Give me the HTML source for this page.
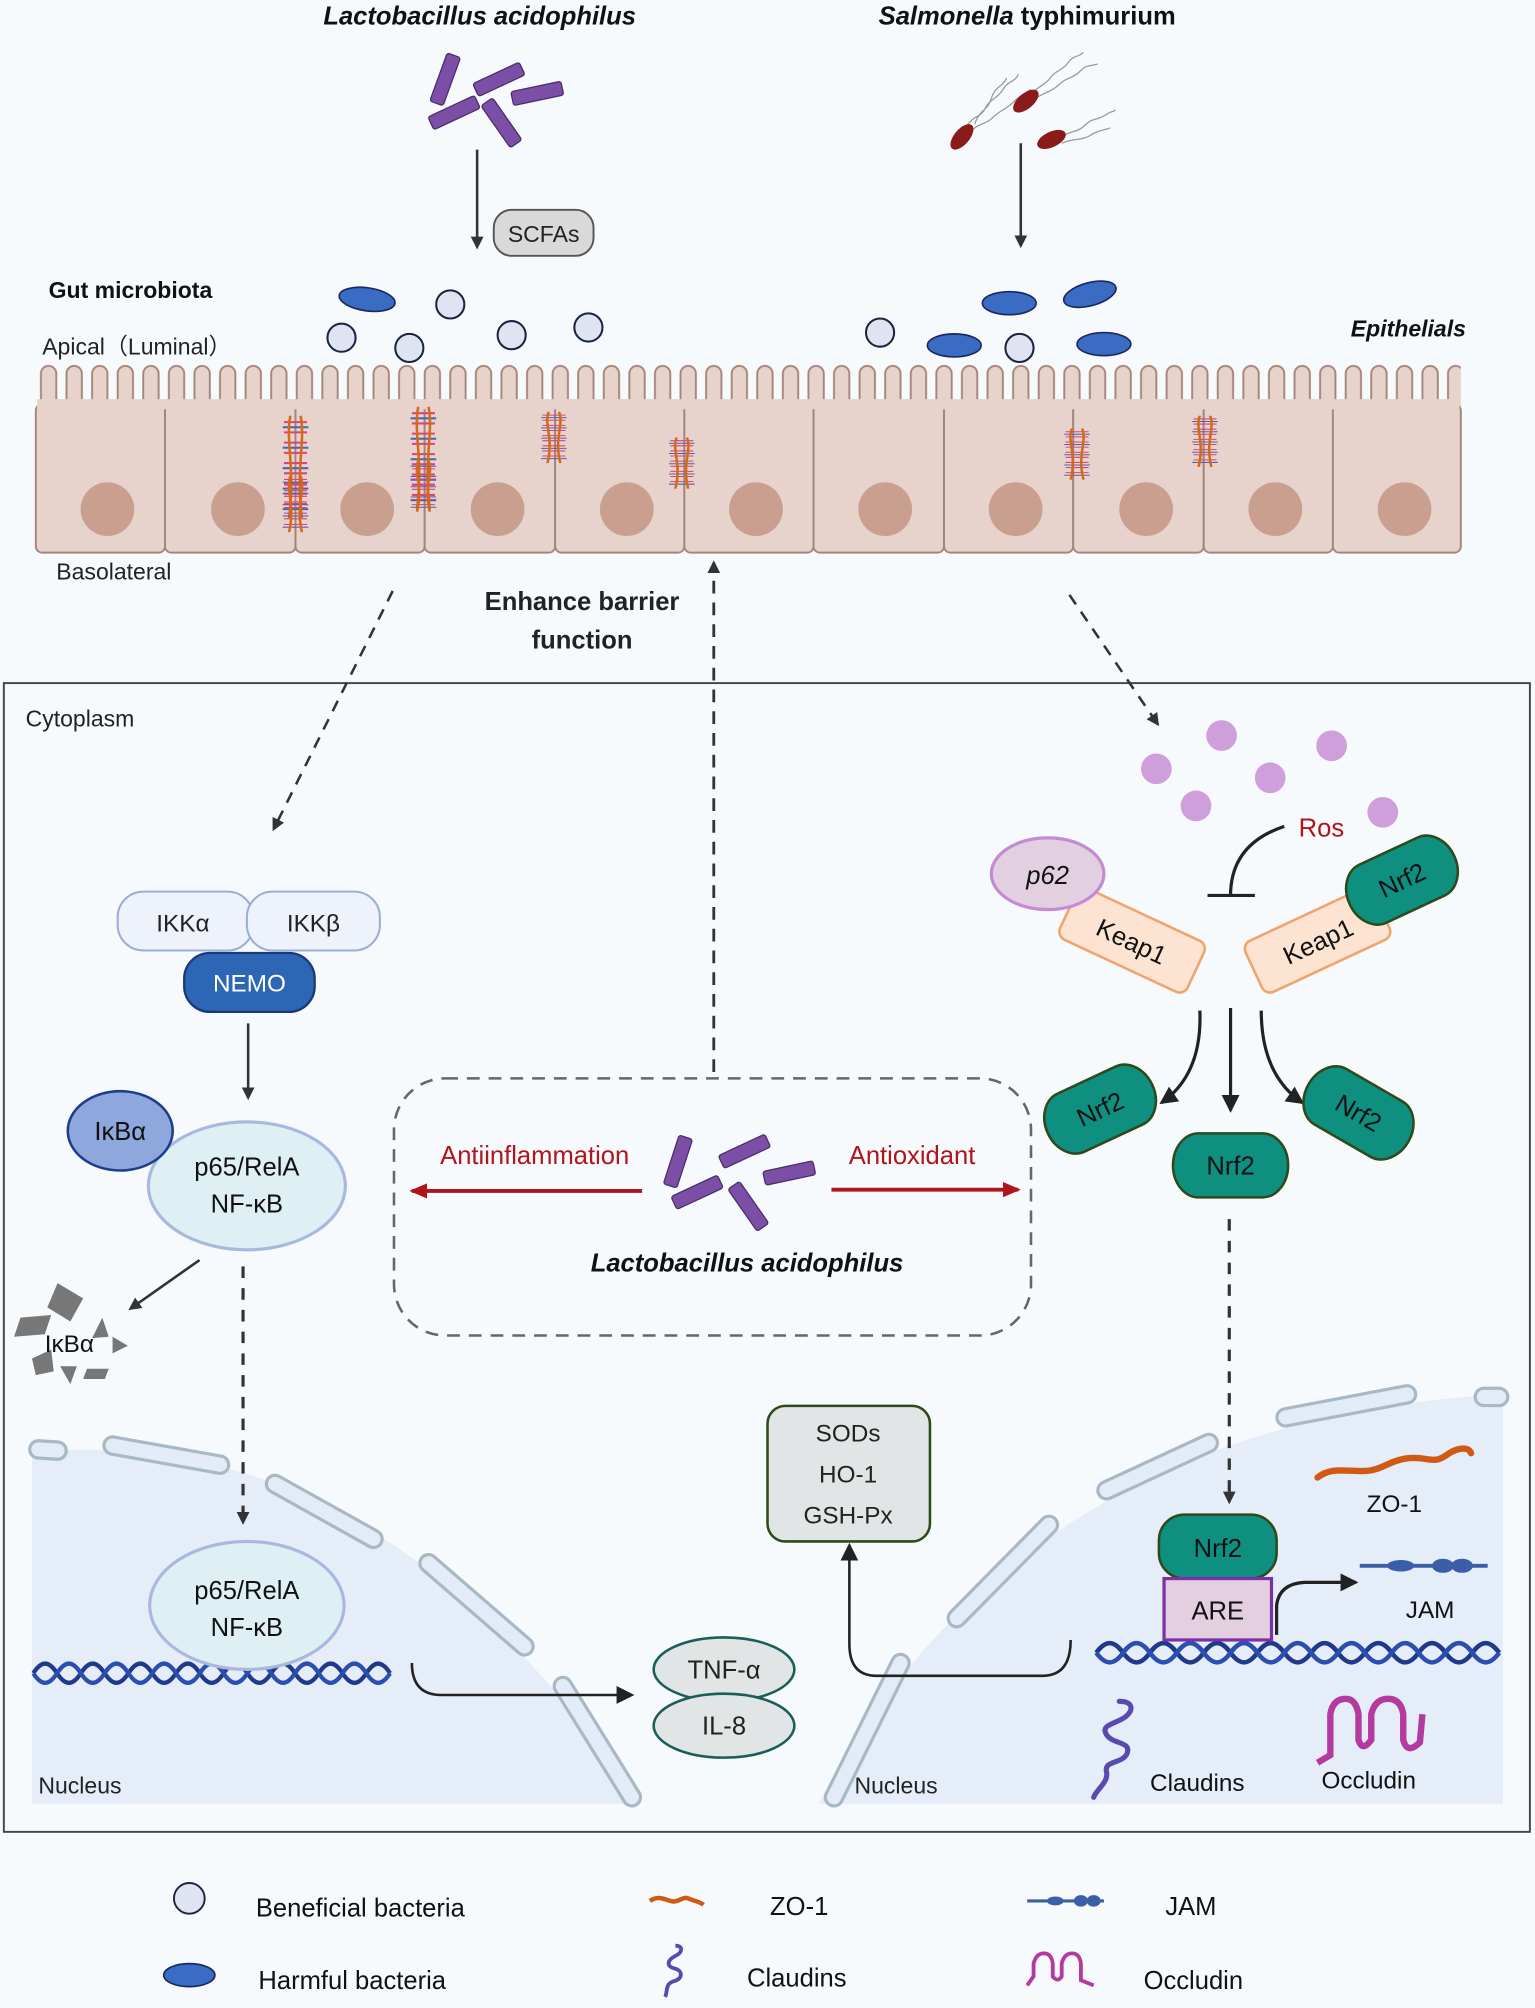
<!DOCTYPE html>
<html><head><meta charset="utf-8"><style>
html,body{margin:0;padding:0;background:#f7fafd;}
svg{display:block;}
text{font-family:"Liberation Sans",sans-serif;}
</style></head><body>
<svg width="1535" height="2008" viewBox="0 0 1200 1569.7" preserveAspectRatio="none" xmlns="http://www.w3.org/2000/svg">
<defs>
<marker id="ah" markerWidth="10" markerHeight="10" refX="8" refY="5" orient="auto" markerUnits="userSpaceOnUse"><path d="M0,0 L10,5 L0,10 z" fill="#333"/></marker>
<marker id="ah2" markerWidth="14" markerHeight="14" refX="12" refY="7" orient="auto" markerUnits="userSpaceOnUse"><path d="M0,0 L14,7 L0,14 z" fill="#222"/></marker>
<marker id="ahr" markerWidth="14" markerHeight="14" refX="12" refY="7" orient="auto" markerUnits="userSpaceOnUse"><path d="M0,1 L14,7 L0,13 z" fill="#b0141c"/></marker>
<pattern id="villi" x="28" y="285" width="20" height="80" patternUnits="userSpaceOnUse">
<rect x="4" y="1" width="12" height="70" rx="6" fill="#e7d3cc" stroke="#a38679" stroke-width="1.5"/>
</pattern>
<g id="rod"><rect x="-20" y="-5.5" width="40" height="11" rx="2" fill="#7b4fa6" stroke="#4b2d6e" stroke-width="1"/></g>
<g id="tj">
<g stroke-width="1.6" fill="none">
<path d="M-9,5 H9 M-9,13 H9 M-9,21 H9 M-9,29 H9 M-9,37 H9 M-9,45 H9 M-9,53 H9 M-9,61 H9 M-9,69 H9" stroke="#d6457c"/>
<path d="M-10,9 H10 M-10,25 H10 M-10,41 H10 M-10,57 H10 M-10,73 H10" stroke="#4a64b5"/>
<path d="M-4,0 C-8,20 0,40 -5,80 M4,0 C8,20 0,40 5,80" stroke="#d46a17" stroke-width="2"/>
</g></g>
<g id="dna">
<path d="M0,0 c7,-10 13,-10 20,0 s13,10 20,0 s13,-10 20,0 s13,10 20,0 s13,-10 20,0 s13,10 20,0 s13,-10 20,0 s13,10 20,0 s13,-10 20,0 s13,10 20,0 s13,-10 20,0 s13,10 20,0 s13,-10 20,0 s13,10 20,0 s13,-10 20,0" fill="none" stroke="#1f3a8a" stroke-width="3.5"/>
<path d="M0,0 c7,10 13,10 20,0 s13,-10 20,0 s13,10 20,0 s13,-10 20,0 s13,10 20,0 s13,-10 20,0 s13,10 20,0 s13,-10 20,0 s13,10 20,0 s13,-10 20,0 s13,10 20,0 s13,-10 20,0 s13,10 20,0 s13,-10 20,0 s13,10 20,0" fill="none" stroke="#2a4fb0" stroke-width="3.5"/>
</g>
<g id="nrf2"><rect x="-45" y="-25" width="90" height="50" rx="20" ry="25" fill="#0e8f80" stroke="#2d4a1a" stroke-width="2"/></g>
</defs>
<rect width="1200" height="1570" fill="#f7fafd"/>

<text x="375" y="19" font-size="20" font-weight="bold" font-style="italic" text-anchor="middle" fill="#111">Lactobacillus acidophilus</text>
<text x="803" y="19" font-size="20" font-weight="bold" text-anchor="middle" fill="#111"><tspan font-style="italic">Salmonella</tspan> typhimurium</text>

<use href="#rod" transform="translate(348,62) rotate(-70)"/>
<use href="#rod" transform="translate(390,62) rotate(-25)"/>
<use href="#rod" transform="translate(355,88) rotate(-25)"/>
<use href="#rod" transform="translate(420,73) rotate(-12)"/>
<use href="#rod" transform="translate(392,96) rotate(55)"/>
<line x1="373" y1="117" x2="373" y2="193" stroke="#333" stroke-width="2" marker-end="url(#ah)"/>
<rect x="386" y="164" width="78" height="36" rx="14" fill="#d9d9d9" stroke="#555" stroke-width="1.5"/>
<text x="425" y="189" font-size="18" text-anchor="middle" fill="#222">SCFAs</text>

<g stroke="#999" stroke-width="1" fill="none">
<path d="M755,100 c5,-10 12,-8 15,-15 s10,-8 14,-15 s10,-6 12,-12 M758,104 c6,-8 12,-6 18,-12 s10,-6 16,-12 s8,-6 14,-10 M762,97 c4,-12 10,-10 13,-20 s8,-8 12,-16"/>
<path d="M805,75 c6,-8 12,-8 16,-14 s10,-6 14,-12 s8,-4 12,-8 M808,78 c8,-6 14,-6 20,-12 s10,-4 16,-10 s8,-4 14,-6"/>
<path d="M828,108 c8,-6 14,-4 20,-10 s10,-4 16,-8 s6,-2 8,-4 M830,112 c8,-4 16,-2 22,-6 s10,-4 16,-6"/>
</g>
<ellipse cx="752" cy="107" rx="12" ry="6" transform="rotate(-50 752 107)" fill="#8b1a1a"/>
<ellipse cx="802" cy="79" rx="12" ry="6" transform="rotate(-40 802 79)" fill="#8b1a1a"/>
<ellipse cx="822" cy="109" rx="12" ry="6" transform="rotate(-25 822 109)" fill="#8b1a1a"/>
<line x1="798" y1="112" x2="798" y2="192" stroke="#333" stroke-width="2" marker-end="url(#ah)"/>

<text x="38" y="233" font-size="18" font-weight="bold" fill="#111">Gut microbiota</text>
<text x="33" y="277" font-size="18" fill="#222">Apical（Luminal）</text>
<text x="1146" y="263" font-size="18" font-weight="bold" font-style="italic" text-anchor="end" fill="#111">Epithelials</text>

<g fill="#dfe4f2" stroke="#1a2340" stroke-width="1.6">
<circle cx="352" cy="238" r="11"/><circle cx="267" cy="264" r="11"/><circle cx="320" cy="272" r="11"/>
<circle cx="400" cy="262" r="11"/><circle cx="460" cy="256" r="11"/><circle cx="688" cy="260" r="11"/><circle cx="797" cy="272" r="11"/>
</g>
<g fill="#3b6cc4" stroke="#1a2a60" stroke-width="1.3">
<ellipse cx="287" cy="234" rx="22" ry="9" transform="rotate(8 287 234)"/>
<ellipse cx="789" cy="237" rx="21" ry="9"/>
<ellipse cx="852" cy="230" rx="21" ry="9" transform="rotate(-15 852 230)"/>
<ellipse cx="746" cy="270" rx="21" ry="9"/>
<ellipse cx="863" cy="269" rx="21" ry="9"/>
</g>

<rect x="28" y="285" width="1114" height="38" fill="url(#villi)"/>
<g fill="#e7d3cc" stroke="#a38679" stroke-width="1.5">
<rect x="28" y="316" width="101" height="116" rx="5"/>
<rect x="129" y="316" width="102" height="116" rx="5"/>
<rect x="231" y="316" width="101" height="116" rx="5"/>
<rect x="332" y="316" width="102" height="116" rx="5"/>
<rect x="434" y="316" width="101" height="116" rx="5"/>
<rect x="535" y="316" width="101" height="116" rx="5"/>
<rect x="636" y="316" width="102" height="116" rx="5"/>
<rect x="738" y="316" width="101" height="116" rx="5"/>
<rect x="839" y="316" width="102" height="116" rx="5"/>
<rect x="941" y="316" width="101" height="116" rx="5"/>
<rect x="1042" y="316" width="100" height="116" rx="5"/>
</g>
<rect x="29" y="312" width="1112" height="8" fill="#e7d3cc"/>
<g fill="#c9a090">
<circle cx="84" cy="398" r="21"/><circle cx="186" cy="398" r="21"/><circle cx="287" cy="398" r="21"/><circle cx="389" cy="398" r="21"/>
<circle cx="490" cy="398" r="21"/><circle cx="591" cy="398" r="21"/><circle cx="692" cy="398" r="21"/><circle cx="794" cy="398" r="21"/>
<circle cx="896" cy="398" r="21"/><circle cx="997" cy="398" r="21"/><circle cx="1098" cy="398" r="21"/>
</g>
<use href="#tj" transform="translate(231,325)"/>
<use href="#tj" transform="translate(231,372) scale(1,0.55)"/>
<use href="#tj" transform="translate(331,318)"/>
<use href="#tj" transform="translate(331,360) scale(1,0.5)"/>
<use href="#tj" transform="translate(433,322) scale(1,0.5)"/>
<use href="#tj" transform="translate(533,342) scale(1,0.5)"/>
<use href="#tj" transform="translate(842,335) scale(1,0.5)"/>
<use href="#tj" transform="translate(942,325) scale(1,0.5)"/>
<text x="44" y="453" font-size="18" fill="#222">Basolateral</text>

<text x="455" y="477" font-size="20" font-weight="bold" text-anchor="middle" fill="#222">Enhance barrier</text>
<text x="455" y="507" font-size="20" font-weight="bold" text-anchor="middle" fill="#222">function</text>

<rect x="3" y="534" width="1193" height="898" fill="#f7fafd" stroke="#444" stroke-width="1.5"/>
<text x="20" y="568" font-size="18" fill="#222">Cytoplasm</text>

<line x1="307" y1="462" x2="214" y2="648" stroke="#333" stroke-width="2" stroke-dasharray="9,7" marker-end="url(#ah)"/>
<line x1="836" y1="465" x2="905" y2="566" stroke="#333" stroke-width="2" stroke-dasharray="9,7" marker-end="url(#ah)"/>
<line x1="558" y1="838" x2="558" y2="440" stroke="#333" stroke-width="2.2" stroke-dasharray="10,7" marker-end="url(#ah)"/>

<path d="M25,1135 Q300,1110 500,1410 L25,1410 Z" fill="#e5edf8"/>
<path d="M640,1410 Q800,1110 1175,1090 L1175,1410 Z" fill="#e5edf8"/>
<g stroke-linecap="round" fill="none">
<g stroke="#a8b8c4" stroke-width="16">
<line x1="30" y1="1133" x2="45" y2="1134"/><line x1="88" y1="1130" x2="172" y2="1145"/>
<line x1="215" y1="1160" x2="292" y2="1203"/><line x1="335" y1="1222" x2="410" y2="1287"/>
<line x1="440" y1="1318" x2="494" y2="1405"/>
<line x1="704" y1="1300" x2="652" y2="1405"/><line x1="820" y1="1192" x2="748" y2="1265"/>
<line x1="945" y1="1128" x2="865" y2="1165"/><line x1="1005" y1="1108" x2="1100" y2="1090"/><line x1="1160" y1="1092" x2="1172" y2="1092"/>
</g>
<g stroke="#e3ecf6" stroke-width="11">
<line x1="30" y1="1133" x2="45" y2="1134"/><line x1="88" y1="1130" x2="172" y2="1145"/>
<line x1="215" y1="1160" x2="292" y2="1203"/><line x1="335" y1="1222" x2="410" y2="1287"/>
<line x1="440" y1="1318" x2="494" y2="1405"/>
<line x1="704" y1="1300" x2="652" y2="1405"/><line x1="820" y1="1192" x2="748" y2="1265"/>
<line x1="945" y1="1128" x2="865" y2="1165"/><line x1="1005" y1="1108" x2="1100" y2="1090"/><line x1="1160" y1="1092" x2="1172" y2="1092"/>
</g></g>
<text x="30" y="1402" font-size="18" fill="#222">Nucleus</text>
<text x="668" y="1402" font-size="18" fill="#222">Nucleus</text>

<rect x="92" y="697" width="106" height="46" rx="20" fill="#eef2fa" stroke="#9aaed6" stroke-width="1.6"/>
<rect x="193" y="697" width="104" height="46" rx="20" fill="#eef2fa" stroke="#9aaed6" stroke-width="1.6"/>
<text x="143" y="728" font-size="19" text-anchor="middle" fill="#222">IKKα</text>
<text x="245" y="728" font-size="19" text-anchor="middle" fill="#222">IKKβ</text>
<rect x="144" y="745" width="102" height="46" rx="20" fill="#2d66b4" stroke="#1a3a75" stroke-width="1.8"/>
<text x="195" y="775" font-size="19" text-anchor="middle" fill="#fff">NEMO</text>
<line x1="194" y1="800" x2="194" y2="858" stroke="#333" stroke-width="2" marker-end="url(#ah)"/>
<ellipse cx="193" cy="927" rx="77" ry="50" fill="#dff0f4" stroke="#aab8e0" stroke-width="2.5"/>
<ellipse cx="94" cy="884" rx="41" ry="31" fill="#8ea8dd" stroke="#1f3e8a" stroke-width="2"/>
<text x="94" y="891" font-size="20" text-anchor="middle" fill="#111">IκBα</text>
<text x="193" y="919" font-size="20" text-anchor="middle" fill="#111">p65/RelA</text>
<text x="193" y="948" font-size="20" text-anchor="middle" fill="#111">NF-κB</text>
<line x1="156" y1="985" x2="102" y2="1023" stroke="#333" stroke-width="2" marker-end="url(#ah)"/>
<g fill="#777">
<polygon points="16,1030 40,1028 35,1043 11,1045"/><polygon points="45,1003 65,1015 55,1033 37,1022"/>
<polygon points="80,1030 85,1045 72,1046"/><polygon points="25,1062 40,1055 42,1072 28,1075"/>
<polygon points="47,1068 60,1068 55,1082"/><polygon points="68,1070 85,1070 82,1078 65,1078"/>
<polygon points="88,1045 100,1052 88,1058"/>
</g>
<text x="35" y="1057" font-size="19" fill="#111">IκBα</text>
<line x1="190" y1="990" x2="190" y2="1190" stroke="#333" stroke-width="2.5" stroke-dasharray="9,8" marker-end="url(#ah)"/>
<use href="#dna" transform="translate(26,1308) scale(0.93,1)"/>
<ellipse cx="193" cy="1255" rx="76" ry="50" fill="#dff0f4" stroke="#aab8e0" stroke-width="2.5"/>
<text x="193" y="1250" font-size="20" text-anchor="middle" fill="#111">p65/RelA</text>
<text x="193" y="1279" font-size="20" text-anchor="middle" fill="#111">NF-κB</text>
<path d="M322,1300 Q322,1325 345,1325 L494,1325" fill="none" stroke="#222" stroke-width="2" marker-end="url(#ah2)"/>
<ellipse cx="566" cy="1305" rx="55" ry="25" fill="#e2e5e6" stroke="#1a5e5a" stroke-width="2"/>
<ellipse cx="566" cy="1349" rx="55" ry="25" fill="#e2e5e6" stroke="#1a5e5a" stroke-width="2"/>
<text x="566" y="1312" font-size="20" text-anchor="middle" fill="#222">TNF-α</text>
<text x="566" y="1356" font-size="20" text-anchor="middle" fill="#222">IL-8</text>

<rect x="308" y="843" width="498" height="201" rx="40" fill="none" stroke="#666" stroke-width="2" stroke-dasharray="10,7"/>
<line x1="502" y1="931" x2="322" y2="931" stroke="#b0141c" stroke-width="3" marker-end="url(#ahr)"/>
<line x1="650" y1="930" x2="796" y2="930" stroke="#b0141c" stroke-width="3" marker-end="url(#ahr)"/>
<text x="418" y="910" font-size="20" text-anchor="middle" fill="#b0141c">Antiinflammation</text>
<text x="713" y="910" font-size="20" text-anchor="middle" fill="#b0141c">Antioxidant</text>
<use href="#rod" transform="translate(530,908) rotate(-72)"/>
<use href="#rod" transform="translate(582,900) rotate(-25)"/>
<use href="#rod" transform="translate(545,932) rotate(-25)"/>
<use href="#rod" transform="translate(617,917) rotate(-12)"/>
<use href="#rod" transform="translate(585,943) rotate(55)"/>
<text x="584" y="994" font-size="20" font-weight="bold" font-style="italic" text-anchor="middle" fill="#111">Lactobacillus acidophilus</text>

<g fill="#cf9fdc">
<circle cx="955" cy="575" r="12"/><circle cx="1041" cy="583" r="12"/><circle cx="904" cy="601" r="12"/>
<circle cx="993" cy="608" r="12"/><circle cx="935" cy="630" r="12"/><circle cx="1081" cy="635" r="12"/>
</g>
<text x="1033" y="654" font-size="20" text-anchor="middle" fill="#b0141c">Ros</text>
<path d="M1004,646 Q962,660 962,700" fill="none" stroke="#222" stroke-width="2.5"/>
<line x1="944" y1="700" x2="981" y2="700" stroke="#222" stroke-width="2.5"/>
<g transform="translate(885,735) rotate(25)">
<rect x="-55" y="-22" width="110" height="44" rx="7" fill="#fde3d2" stroke="#f2a36a" stroke-width="2"/>
<text x="0" y="8" font-size="20" text-anchor="middle" fill="#111">Keap1</text></g>
<ellipse cx="819" cy="683" rx="44" ry="28" fill="#e2cfe0" stroke="#c58ad6" stroke-width="2.5"/>
<text x="819" y="691" font-size="20" text-anchor="middle" fill="#111" font-style="italic">p62</text>
<g transform="translate(1030,735) rotate(-25)">
<rect x="-55" y="-22" width="110" height="44" rx="7" fill="#fde3d2" stroke="#f2a36a" stroke-width="2"/>
<text x="0" y="8" font-size="20" text-anchor="middle" fill="#111">Keap1</text></g>
<g transform="translate(1096,688) rotate(-25)"><use href="#nrf2"/><text x="0" y="7" font-size="20" text-anchor="middle" fill="#111">Nrf2</text></g>
<path d="M938,790 Q940,840 908,862" fill="none" stroke="#222" stroke-width="2.5" marker-end="url(#ah2)"/>
<line x1="962" y1="788" x2="962" y2="868" stroke="#222" stroke-width="2.5" marker-end="url(#ah2)"/>
<path d="M986,790 Q986,840 1018,862" fill="none" stroke="#222" stroke-width="2.5" marker-end="url(#ah2)"/>
<g transform="translate(860,867) rotate(-25)"><use href="#nrf2"/><text x="0" y="7" font-size="20" text-anchor="middle" fill="#111">Nrf2</text></g>
<g transform="translate(1062,870) rotate(30)"><use href="#nrf2"/><text x="0" y="7" font-size="20" text-anchor="middle" fill="#111">Nrf2</text></g>
<g transform="translate(962,911)"><use href="#nrf2"/><text x="0" y="7" font-size="20" text-anchor="middle" fill="#111">Nrf2</text></g>
<line x1="961" y1="953" x2="961" y2="1174" stroke="#333" stroke-width="2.5" stroke-dasharray="9,8" marker-end="url(#ah)"/>

<rect x="600" y="1099" width="127" height="106" rx="14" fill="#e2e5e6" stroke="#2d4a1a" stroke-width="2"/>
<text x="663" y="1127" font-size="19" text-anchor="middle" fill="#222">SODs</text>
<text x="663" y="1159" font-size="19" text-anchor="middle" fill="#222">HO-1</text>
<text x="663" y="1191" font-size="19" text-anchor="middle" fill="#222">GSH-Px</text>
<path d="M837,1282 Q837,1310 815,1310 L685,1310 Q664,1310 664,1285 L664,1208" fill="none" stroke="#222" stroke-width="2" marker-end="url(#ah2)"/>

<use href="#dna" transform="translate(857,1292) scale(1.05,1)"/>
<rect x="906" y="1184" width="92" height="50" rx="20" fill="#0e8f80" stroke="#2d4a1a" stroke-width="2"/>
<text x="952" y="1217" font-size="20" text-anchor="middle" fill="#111">Nrf2</text>
<rect x="910" y="1234" width="84" height="48" fill="#e4cfe0" stroke="#7d2fa6" stroke-width="2.5"/>
<text x="952" y="1266" font-size="20" text-anchor="middle" fill="#111">ARE</text>
<path d="M998,1278 L998,1255 Q1000,1238 1020,1237 L1060,1237" fill="none" stroke="#222" stroke-width="2.5" marker-end="url(#ah2)"/>
<path d="M1030,1155 c10,-8 20,-5 35,-5 c15,0 20,-8 35,-10 c15,-2 20,5 30,-2 c8,-6 18,-8 20,-2" fill="none" stroke="#d05a14" stroke-width="5" stroke-linecap="round"/>
<text x="1090" y="1182" font-size="19" text-anchor="middle" fill="#111">ZO-1</text>
<g stroke="#3a5ea8" fill="#3a5ea8"><line x1="1063" y1="1224" x2="1163" y2="1224" stroke-width="3"/>
<ellipse cx="1095" cy="1224" rx="10" ry="4"/><ellipse cx="1128" cy="1224" rx="8" ry="5"/><ellipse cx="1143" cy="1224" rx="8" ry="5"/></g>
<text x="1118" y="1265" font-size="19" text-anchor="middle" fill="#111">JAM</text>
<path d="M875,1330 c10,0 12,6 5,12 c-8,6 -20,6 -15,14 c5,8 20,5 16,15 c-4,8 -18,5 -16,14 c2,8 -8,14 -10,20" fill="none" stroke="#5a4ab0" stroke-width="4" stroke-linecap="round"/>
<text x="936" y="1400" font-size="19" text-anchor="middle" fill="#111">Claudins</text>
<path d="M1030,1378 L1040,1372 L1040,1340 Q1042,1328 1052,1328 Q1060,1328 1062,1340 L1062,1360 Q1065,1370 1072,1360 L1072,1340 Q1075,1328 1085,1328 Q1095,1328 1097,1340 L1097,1360 Q1100,1372 1110,1362 L1112,1340" fill="none" stroke="#b53aa0" stroke-width="5"/>
<text x="1070" y="1398" font-size="19" text-anchor="middle" fill="#111">Occludin</text>

<ellipse cx="148" cy="1484" rx="12" ry="12" fill="#dfe4f2" stroke="#1a2340" stroke-width="1.5"/>
<text x="200" y="1498" font-size="20" fill="#111">Beneficial bacteria</text>
<ellipse cx="148" cy="1544" rx="20" ry="9" fill="#3b6cc4" stroke="#1a2a60" stroke-width="1.3"/>
<text x="202" y="1555" font-size="20" fill="#111">Harmful bacteria</text>
<path d="M508,1486 c6,-4 10,-2 16,0 c6,2 10,-4 14,-2 c4,2 8,2 12,5" fill="none" stroke="#d05a14" stroke-width="3.5"/>
<text x="602" y="1497" font-size="20" fill="#111">ZO-1</text>
<path d="M528,1521 c6,0 6,5 0,8 c-6,3 -8,8 0,10 c6,2 6,8 -2,10 c-6,2 -4,8 -6,12" fill="none" stroke="#5a4ab0" stroke-width="3"/>
<text x="584" y="1553" font-size="20" fill="#111">Claudins</text>
<g stroke="#3a5ea8" fill="#3a5ea8"><line x1="803" y1="1486" x2="863" y2="1486" stroke-width="2.5"/>
<ellipse cx="825" cy="1486" rx="6" ry="3"/><ellipse cx="845" cy="1486" rx="5" ry="4"/><ellipse cx="855" cy="1486" rx="5" ry="4"/></g>
<text x="911" y="1497" font-size="20" fill="#111">JAM</text>
<path d="M803,1552 L808,1545 L808,1535 Q810,1527 816,1527 Q822,1527 823,1535 L823,1545 Q827,1550 830,1545 L830,1535 Q832,1527 838,1527 Q844,1527 845,1535 L845,1548 L855,1552" fill="none" stroke="#b53aa0" stroke-width="3"/>
<text x="894" y="1555" font-size="20" fill="#111">Occludin</text>
</svg>
</body></html>
